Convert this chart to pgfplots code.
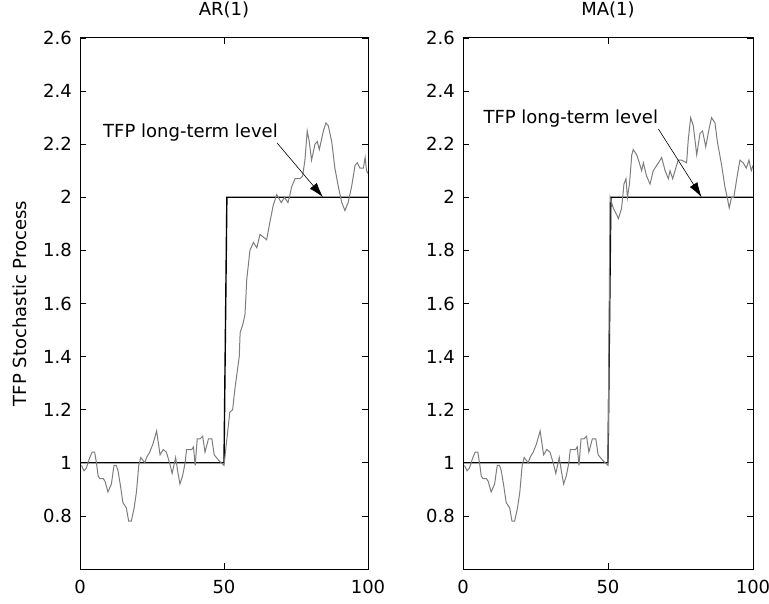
\documentclass[border=0pt]{standalone}
\usepackage{fontspec}
\setmainfont{DejaVu Sans}
\usepackage{pgfplots}
\pgfplotsset{compat=1.18}
\usetikzlibrary{arrows.meta}
\definecolor{procgray}{RGB}{125,125,125}

\pgfplotsset{
  mystyle/.style={
    scale only axis,
    width=288pt, height=531pt,
    xmin=0, xmax=100, ymin=0.6, ymax=2.6,
    xtick={0,50,100},
    ytick={0.8,1,1.2,1.4,1.6,1.8,2,2.2,2.4,2.6},
    tick align=inside,
    major tick length=6pt,
    axis line style={line width=1pt},
    every tick/.style={black, line width=0.8pt},
    font=\fontsize{18pt}{21pt}\selectfont,
    /pgf/number format/assume math mode=true,
    /pgf/number format/fixed,
    /pgf/number format/precision=1,
    yticklabel style={anchor=east, inner sep=0pt, xshift=-8pt},
    xticklabel style={anchor=base, inner sep=0pt, yshift=-24pt},
    title style={at={(0.5,1)}, anchor=base, inner sep=0pt, yshift=16pt},
    clip=true,
  }
}

\begin{document}
\begin{tikzpicture}
\path[use as bounding box] (0,0) rectangle (769pt,603pt);

% ---------------- AR(1) ----------------
\begin{axis}[mystyle, at={(80pt,34pt)}, anchor=south west,
  title={AR(1)},
  ylabel={TFP Stochastic Process},
  ylabel style={at={(axis description cs:-0.2083,0.5)}, anchor=center, inner sep=0pt},
]
\addplot[black, line width=1.4pt] coordinates {(0,1) (50,1) (51,2) (100,2)};
\addplot[procgray, line width=1pt] coordinates {
(0.5,0.99) (1.4,0.97) (2.2,0.98) (3.4,1.02) (4.2,1.04) (5.1,1.04) (5.7,1.00) (6.3,0.95)
(6.9,0.94) (8.1,0.94) (8.7,0.93) (9.7,0.89) (10.9,0.92) (11.8,0.99) (12.6,0.99) (13.2,0.97)
(14.1,0.91) (14.9,0.85) (16.1,0.83) (16.9,0.78) (17.8,0.78) (18.8,0.83) (19.6,0.89) (20.4,0.99)
(21.1,1.02) (22.5,1.00) (23.1,1.02) (24.2,1.04) (25.3,1.07) (26.6,1.12) (27.8,1.03) (28.9,1.05)
(30.0,1.04) (31.1,1.00) (32.0,0.96) (33.2,1.02) (33.9,0.97) (34.7,0.92) (35.6,0.95) (36.5,1.00)
(37.0,1.05) (38.8,1.05) (39.4,1.06) (40.0,0.99) (40.7,1.09) (41.7,1.09) (42.6,1.10) (43.4,1.04)
(44.6,1.09) (45.8,1.09) (46.6,1.03) (48.1,1.01) (50.0,0.99)
(50.7,1.06) (51.5,1.14) (52.0,1.19) (53.0,1.20) (53.8,1.28) (55.3,1.40) (55.6,1.49) (56.5,1.52)
(57.3,1.56) (57.9,1.69) (59.0,1.80) (60.2,1.83) (61.4,1.81) (62.5,1.86) (63.7,1.85) (64.8,1.84)
(66.0,1.91) (67.1,1.97) (68.3,2.01) (69.9,1.98) (71.0,2.00) (72.2,1.98) (72.7,2.00) (73.5,2.04)
(74.7,2.07) (76.4,2.07) (77.3,2.08) (78.1,2.14) (78.9,2.25) (79.6,2.21) (80.4,2.14) (81.6,2.20)
(82.4,2.21) (83.1,2.18) (84.5,2.25) (85.4,2.28) (86.2,2.27) (87.4,2.21) (88.5,2.11) (89.7,2.04)
(90.9,1.98) (92.0,1.95) (93.1,1.98) (94.3,2.04) (95.5,2.12) (96.3,2.13) (97.2,2.11) (98.4,2.11)
(99.0,2.15) (99.5,2.10) (100,2.09)
};
\node[anchor=west, inner sep=0pt] at (axis cs:8,2.245) {TFP long-term level};
\draw[-{Latex[length=15pt,width=9pt]}, line width=0.6pt] (axis cs:68.4,2.205) -- (axis cs:84.4,2.0);
\end{axis}

% ---------------- MA(1) ----------------
\begin{axis}[mystyle, at={(463pt,34pt)}, anchor=south west, width=290pt,
  title={MA(1)},
]
\addplot[black, line width=1.4pt] coordinates {(0,1) (50,1) (51,2) (100,2)};
\addplot[procgray, line width=1pt] coordinates {
(0.5,0.99) (1.4,0.97) (2.2,0.98) (3.4,1.02) (4.2,1.04) (5.1,1.04) (5.7,1.00) (6.3,0.95)
(6.9,0.94) (8.1,0.94) (8.7,0.93) (9.7,0.89) (10.9,0.92) (11.8,0.99) (12.6,0.99) (13.2,0.97)
(14.1,0.91) (14.9,0.85) (16.1,0.83) (16.9,0.78) (17.8,0.78) (18.8,0.83) (19.6,0.89) (20.4,0.99)
(21.1,1.02) (22.5,1.00) (23.1,1.02) (24.2,1.04) (25.3,1.07) (26.6,1.12) (27.8,1.03) (28.9,1.05)
(30.0,1.04) (31.1,1.00) (32.0,0.96) (33.2,1.02) (33.9,0.97) (34.7,0.92) (35.6,0.95) (36.5,1.00)
(37.0,1.05) (38.8,1.05) (39.4,1.06) (40.0,0.99) (40.7,1.09) (41.7,1.09) (42.6,1.10) (43.4,1.04)
(44.6,1.09) (45.8,1.09) (46.6,1.03) (48.1,1.01) (50.0,0.99)
(50.7,2.00) (51.8,1.96) (53.6,1.92) (54.7,1.96) (55.5,2.05) (56.2,2.07) (56.7,2.00) (57.4,2.05)
(58.2,2.16) (58.7,2.18) (59.9,2.16) (60.8,2.13) (61.6,2.10) (62.2,2.13) (63.3,2.08) (64.5,2.05)
(65.6,2.10) (67.4,2.13) (68.5,2.15) (69.7,2.10) (70.8,2.07) (71.4,2.10) (72.3,2.07) (73.1,2.10)
(74.2,2.14) (75.4,2.14) (77.1,2.13) (77.7,2.22) (78.5,2.30) (79.4,2.27) (80.6,2.16) (81.7,2.24)
(82.6,2.25) (83.7,2.19) (84.9,2.26) (85.7,2.30) (86.9,2.28) (87.7,2.21) (89.2,2.12) (90.3,2.04)
(91.1,2.00) (91.8,1.96) (92.6,2.00) (93.4,2.00) (94.4,2.07) (95.5,2.14) (96.6,2.13) (97.7,2.11)
(98.6,2.14) (99.4,2.10) (100,2.12)
};
\node[anchor=west, inner sep=0pt] at (axis cs:7,2.296) {TFP long-term level};
\draw[-{Latex[length=15pt,width=9pt]}, line width=0.6pt] (axis cs:67.4,2.257) -- (axis cs:82.3,2.0);
\end{axis}
\end{tikzpicture}
\end{document}
